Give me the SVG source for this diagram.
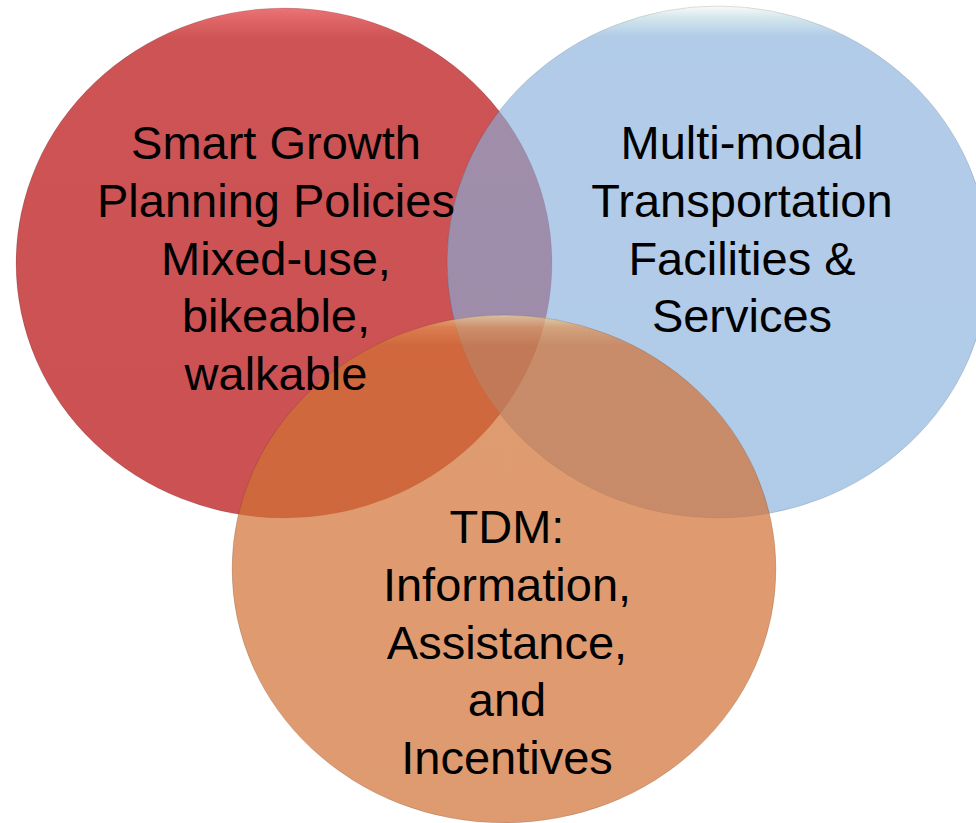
<svg xmlns="http://www.w3.org/2000/svg" width="976" height="823" viewBox="0 0 976 823">
  <style>
    .label { font-family: "Liberation Sans", Arial, sans-serif; font-size: 47px; fill: #000000; text-anchor: middle; }
    .edge { stroke: rgba(0,0,0,0.12); stroke-width: 1; }
  </style>
  <defs>
    <linearGradient id="gRed" x1="0" y1="0" x2="0" y2="1">
      <stop offset="0" stop-color="#EC7476"/>
      <stop offset="0.025" stop-color="#DE6466"/>
      <stop offset="0.06" stop-color="#CD5355"/>
      <stop offset="1" stop-color="#CB5153"/>
    </linearGradient>
    <linearGradient id="gBlue" x1="0" y1="0" x2="0" y2="1">
      <stop offset="0" stop-color="#F6F8F4"/>
      <stop offset="0.025" stop-color="#B6D6E0"/>
      <stop offset="0.06" stop-color="#86AFDB"/>
      <stop offset="1" stop-color="#84AEDB"/>
    </linearGradient>
    <linearGradient id="gOrange" x1="0" y1="0" x2="0" y2="1">
      <stop offset="0" stop-color="#F2D49A"/>
      <stop offset="0.025" stop-color="#E0904E"/>
      <stop offset="0.06" stop-color="#D27134"/>
      <stop offset="1" stop-color="#D16F33"/>
    </linearGradient>
  </defs>
  <rect x="0" y="0" width="976" height="823" fill="#FFFFFF"/>

  <g id="smart-growth">
    <ellipse cx="284" cy="263" rx="268" ry="255" fill="url(#gRed)" class="edge"/>
  </g>
  <g id="multi-modal">
    <ellipse cx="718" cy="262" rx="271" ry="256" fill="url(#gBlue)" fill-opacity="0.64" class="edge"/>
  </g>
  <g id="tdm">
    <ellipse cx="504" cy="569" rx="272" ry="254" fill="url(#gOrange)" fill-opacity="0.7" class="edge"/>
  </g>

  <g id="smart-growth-label">
    <text class="label" x="276" y="159">Smart Growth</text>
    <text class="label" x="276" y="217">Planning Policies</text>
    <text class="label" x="276" y="275">Mixed-use,</text>
    <text class="label" x="276" y="332">bikeable,</text>
    <text class="label" x="276" y="390">walkable</text>
  </g>
  <g id="multi-modal-label">
    <text class="label" x="742" y="159">Multi-modal</text>
    <text class="label" x="742" y="217">Transportation</text>
    <text class="label" x="742" y="275">Facilities &amp;</text>
    <text class="label" x="742" y="332">Services</text>
  </g>
  <g id="tdm-label">
    <text class="label" x="507" y="543">TDM:</text>
    <text class="label" x="507" y="601">Information,</text>
    <text class="label" x="507" y="659">Assistance,</text>
    <text class="label" x="507" y="716">and</text>
    <text class="label" x="507" y="774">Incentives</text>
  </g>
</svg>
